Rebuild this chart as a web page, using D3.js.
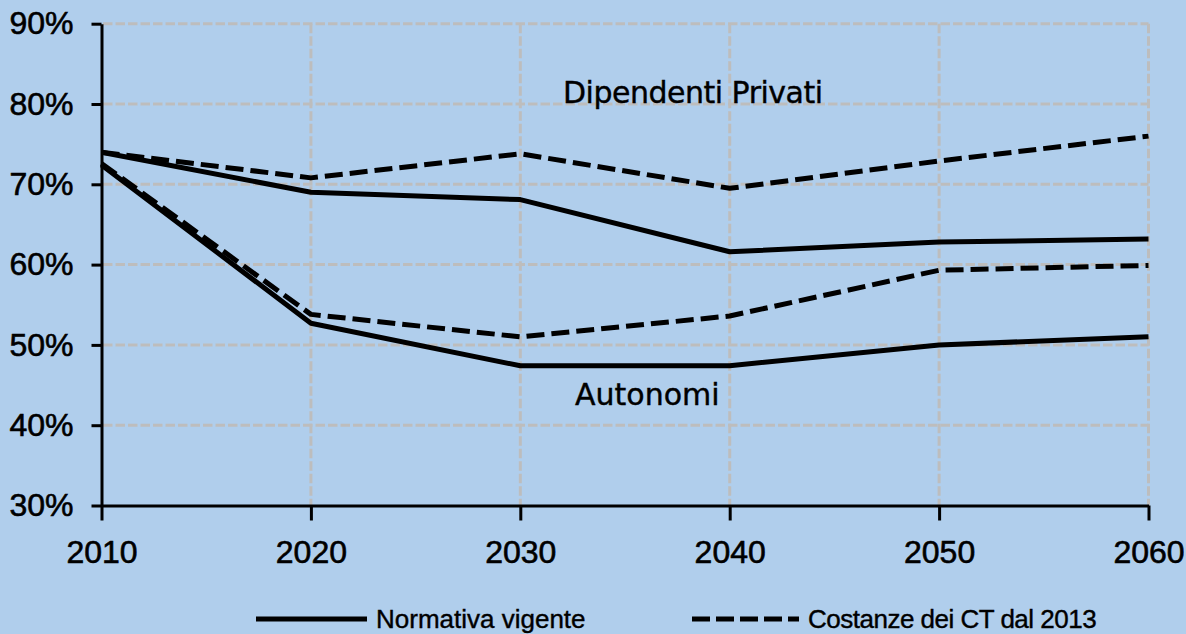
<!DOCTYPE html>
<html>
<head>
<meta charset="utf-8">
<script src="https://cdn.jsdelivr.net/npm/d3@7"></script>
<style>
  html, body { margin: 0; padding: 0; background: #b0ceec; }
  svg { display: block; }
</style>
</head>
<body>
<svg id="chart" width="1186" height="634"></svg>
<script>
// ---- data ----
const years = [2010, 2020, 2030, 2040, 2050, 2060];
const yTicks = [30, 40, 50, 60, 70, 80, 90];
const dipendentiVigente = [74.0, 69.0, 68.1, 61.6, 62.8, 63.2];
const dipendentiCostanza = [74.0, 70.8, 73.8, 69.5, 72.9, 76.0];
const autonomiVigente = [72.4, 52.7, 47.4, 47.4, 50.0, 51.0];
const autonomiCostanza = [72.6, 53.8, 51.0, 53.6, 59.3, 59.9];
const legendLabels = ["Normativa vigente", "Costanze dei CT dal 2013"];
const groupLabels = ["Dipendenti Privati", "Autonomi"];

const series = [
  { values: dipendentiVigente, dashed: false },
  { values: dipendentiCostanza, dashed: true },
  { values: autonomiVigente, dashed: false },
  { values: autonomiCostanza, dashed: true }
];

// ---- layout ----
const svg = d3.select("#chart");
const x = d3.scaleLinear().domain([2010, 2060]).range([101.5, 1148.5]);
const y = d3.scaleLinear().domain([30, 90]).range([505.5, 23.7]);

svg.append("rect").attr("width", 1186).attr("height", 634).attr("fill", "#b0ceec");

const grid = svg.append("g");
const gridColor = "#bdbdbd";
grid.selectAll("line.h").data(yTicks.filter(d => d > 30)).join("line")
  .attr("x1", x(2010) + 1.5).attr("x2", x(2060))
  .attr("y1", d => y(d)).attr("y2", d => y(d))
  .attr("stroke", gridColor).attr("stroke-width", 3)
  .attr("stroke-dasharray", "9.5,3");
grid.selectAll("line.v").data(years.filter(d => d > 2010)).join("line")
  .attr("x1", d => x(d)).attr("x2", d => x(d))
  .attr("y1", y(90)).attr("y2", y(30))
  .attr("stroke", gridColor).attr("stroke-width", 3)
  .attr("stroke-dasharray", "9.5,3");

// axes
const yAxis = svg.append("g").attr("transform", `translate(${x(2010)},0)`)
  .call(d3.axisLeft(y).tickValues(yTicks).tickSize(10).tickSizeOuter(0).tickPadding(18)
    .tickFormat(d => d + "%"));
const xAxis = svg.append("g").attr("transform", `translate(0,${y(30)})`)
  .call(d3.axisBottom(x).tickValues(years).tickSize(15).tickSizeOuter(0).tickPadding(20)
    .tickFormat(d3.format("d")));
[yAxis, xAxis].forEach(g => {
  g.select(".domain").attr("stroke", "#000").attr("stroke-width", 3);
  g.selectAll(".tick line").attr("stroke", "#000").attr("stroke-width", 3);
  g.selectAll(".tick text")
    .attr("fill", "#000")
    .attr("stroke", "#000").attr("stroke-width", 0.6)
    .style("font-family", "'Liberation Sans', Arial, sans-serif")
    .style("font-size", "32px");
});

// lines
const line = d3.line().x((d, i) => x(years[i])).y(d => y(d));
svg.append("g").selectAll("path").data(series).join("path")
  .attr("d", d => line(d.values))
  .attr("fill", "none")
  .attr("stroke", "#000")
  .attr("stroke-width", 5)
  .attr("stroke-linejoin", "round")
  .attr("stroke-dasharray", d => d.dashed ? "18,7" : null);

// group labels
svg.append("text").attr("x", 563).attr("y", 103)
  .style("font-family", "'DejaVu Sans', Verdana, sans-serif")
  .style("font-size", "30px").style("letter-spacing", "-0.5px")
  .attr("fill", "#000").attr("stroke", "#000").attr("stroke-width", 0.4)
  .text(groupLabels[0]);
svg.append("text").attr("x", 575).attr("y", 405)
  .style("font-family", "'DejaVu Sans', Verdana, sans-serif")
  .style("font-size", "30px")
  .attr("fill", "#000").attr("stroke", "#000").attr("stroke-width", 0.4)
  .text(groupLabels[1]);

// legend
const legend = svg.append("g");
const legendItems = [
  { x1: 256, x2: 367, tx: 376, dashed: false, label: legendLabels[0], ls: "0px" },
  { x1: 692, x2: 799, tx: 808, dashed: true, label: legendLabels[1], ls: "-0.5px" }
];
legendItems.forEach(it => {
  legend.append("line").attr("x1", it.x1).attr("x2", it.x2).attr("y1", 619).attr("y2", 619)
    .attr("stroke", "#000").attr("stroke-width", 5)
    .attr("stroke-dasharray", it.dashed ? "18,6" : null);
  legend.append("text").attr("x", it.tx).attr("y", 628)
    .style("font-family", "'Liberation Sans', Arial, sans-serif")
    .style("font-size", "26px").style("letter-spacing", it.ls)
    .attr("fill", "#000").attr("stroke", "#000").attr("stroke-width", 0.4)
    .text(it.label);
});
</script>
</body>
</html>
